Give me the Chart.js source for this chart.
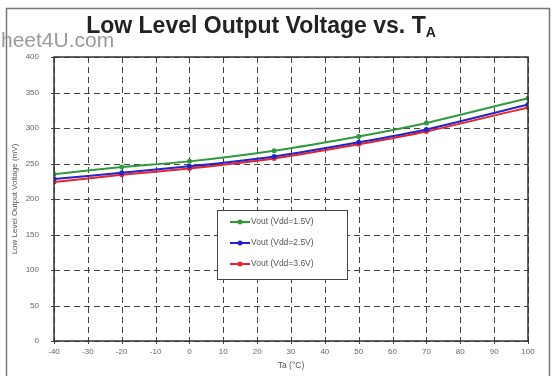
<!DOCTYPE html>
<html>
<head>
<meta charset="utf-8">
<script src="https://cdn.jsdelivr.net/npm/chart.js@4/dist/chart.umd.min.js"></script>
<style>
  body { margin: 0; background: #fff; }
  canvas { display: block; }
</style>
</head>
<body>
<canvas id="vol" width="557" height="376"></canvas>
<script>
// temperature points (deg C) where the curves are sampled
var temps = [-40, -20, 0, 25, 50, 70, 100];
// output voltage in mV for each supply
var vdd15 = [235, 245, 253, 268, 288, 307, 342];
var vdd25 = [228, 237, 246, 260, 280, 298, 333];
var vdd36 = [224, 234, 243, 257, 277, 295, 329];

var seriesNames = ["Vout (Vdd=1.5V)", "Vout (Vdd=2.5V)", "Vout (Vdd=3.6V)"];
var seriesColors = ["#2f9a3c", "#2424c8", "#e62430"];

function pts(vals) {
  return temps.map(function (t, i) { return { x: t, y: vals[i] }; });
}

var frame = {
  id: "frame",
  beforeDraw: function (chart) {
    var c = chart.ctx;
    c.save();
    c.fillStyle = "#fff";
    c.fillRect(0, 0, chart.width, chart.height);
    c.strokeStyle = "#777";
    c.lineWidth = 1.5;
    c.strokeRect(6.5, 8.5, 543, 380);
    c.restore();
  },
  beforeDatasetsDraw: function (chart) {
    // dashed grid drawn from the scales' own ticks
    var c = chart.ctx;
    var a = chart.chartArea;
    var xs = chart.scales.x, ys = chart.scales.y;
    c.save();
    c.strokeStyle = "#444";
    c.lineWidth = 1;
    c.setLineDash([6, 4]);
    xs.ticks.forEach(function (t) {
      var px = Math.round(xs.getPixelForValue(t.value)) + 0.5;
      c.beginPath();
      c.moveTo(px, a.top);
      c.lineTo(px, a.bottom);
      c.stroke();
    });
    ys.ticks.forEach(function (t) {
      var py = Math.round(ys.getPixelForValue(t.value)) + 0.5;
      c.beginPath();
      c.moveTo(a.left, py);
      c.lineTo(a.right, py);
      c.stroke();
    });
    c.setLineDash([]);
    // small tick marks outside the plot
    xs.ticks.forEach(function (t) {
      var px = Math.round(xs.getPixelForValue(t.value)) + 0.5;
      c.beginPath();
      c.moveTo(px, a.bottom);
      c.lineTo(px, a.bottom + 3);
      c.stroke();
    });
    ys.ticks.forEach(function (t) {
      var py = Math.round(ys.getPixelForValue(t.value)) + 0.5;
      c.beginPath();
      c.moveTo(a.left - 3, py);
      c.lineTo(a.left, py);
      c.stroke();
    });
    c.restore();
  },
  afterDraw: function (chart) {
    var c = chart.ctx;
    var a = chart.chartArea;
    c.save();
    // title with subscript
    c.fillStyle = "#222";
    c.textBaseline = "alphabetic";
    var main = "Low Level Output Voltage vs. T";
    c.font = "bold 23px Arial, 'Liberation Sans', sans-serif";
    var w = c.measureText(main).width;
    c.font = "bold 14px Arial, 'Liberation Sans', sans-serif";
    var ws = c.measureText("A").width;
    var x0 = 261 - (w + ws) / 2;
    c.font = "bold 23px Arial, 'Liberation Sans', sans-serif";
    c.fillText(main, x0, 33);
    c.font = "bold 14px Arial, 'Liberation Sans', sans-serif";
    c.fillText("A", x0 + w, 37);
    // watermark
    c.fillStyle = "#9a9a9a";
    c.font = "21px Arial, 'Liberation Sans', sans-serif";
    c.fillText("heet4U.com", 1, 47);
    // plot border
    c.strokeStyle = "#333";
    c.lineWidth = 1.5;
    c.strokeRect(a.left, a.top, a.right - a.left, a.bottom - a.top);
    // legend box
    var bx = 217, by = 210, bw = 130, bh = 69;
    c.fillStyle = "#fff";
    c.fillRect(bx, by, bw, bh);
    c.strokeStyle = "#444";
    c.lineWidth = 1;
    c.strokeRect(bx + 0.5, by + 0.5, bw, bh);
    c.font = "8.5px Arial, 'Liberation Sans', sans-serif";
    c.textBaseline = "middle";
    for (var i = 0; i < seriesNames.length; i++) {
      var ly = by + 12 + i * 21;
      c.strokeStyle = seriesColors[i];
      c.lineWidth = 2;
      c.beginPath();
      c.moveTo(bx + 13, ly);
      c.lineTo(bx + 33, ly);
      c.stroke();
      c.fillStyle = seriesColors[i];
      c.beginPath();
      c.arc(bx + 23, ly, 2.5, 0, Math.PI * 2);
      c.fill();
      c.fillStyle = "#555";
      c.fillText(seriesNames[i], bx + 34, ly);
    }
    c.restore();
  }
};

var ctx = document.getElementById("vol");
var myChart = new Chart(ctx, {
  type: "line",
  data: {
    datasets: [
      { label: seriesNames[0], data: pts(vdd15), borderColor: seriesColors[0], backgroundColor: seriesColors[0] },
      { label: seriesNames[1], data: pts(vdd25), borderColor: seriesColors[1], backgroundColor: seriesColors[1] },
      { label: seriesNames[2], data: pts(vdd36), borderColor: seriesColors[2], backgroundColor: seriesColors[2] }
    ]
  },
  options: {
    responsive: false,
    animation: false,
    layout: { padding: { left: 10, top: 57, right: 29, bottom: 5 } },
    elements: {
      line: { borderWidth: 2, tension: 0.2, fill: false },
      point: { radius: 2.5, borderWidth: 0 }
    },
    plugins: {
      legend: { display: false },
      title: { display: false },
      tooltip: { enabled: false }
    },
    scales: {
      x: {
        type: "linear",
        min: -40,
        max: 100,
        ticks: { stepSize: 10, color: "#666", font: { size: 8 }, padding: 3 },
        grid: { display: false, tickLength: 3 },
        border: { display: false },
        title: { display: true, text: "Ta (°C)", color: "#555", font: { size: 8.5 }, padding: 0 },
        afterFit: function (s) { s.height = 30; }
      },
      y: {
        min: 0,
        max: 400,
        ticks: { stepSize: 50, color: "#666", font: { size: 8 }, padding: 7 },
        grid: { display: false },
        border: { display: false },
        title: { display: true, text: "Low Level Output Voltage (mV)", color: "#555", font: { size: 8 }, padding: 0 },
        afterFit: function (s) { s.width = 44; }
      }
    }
  },
  plugins: [frame]
});
</script>
</body>
</html>
